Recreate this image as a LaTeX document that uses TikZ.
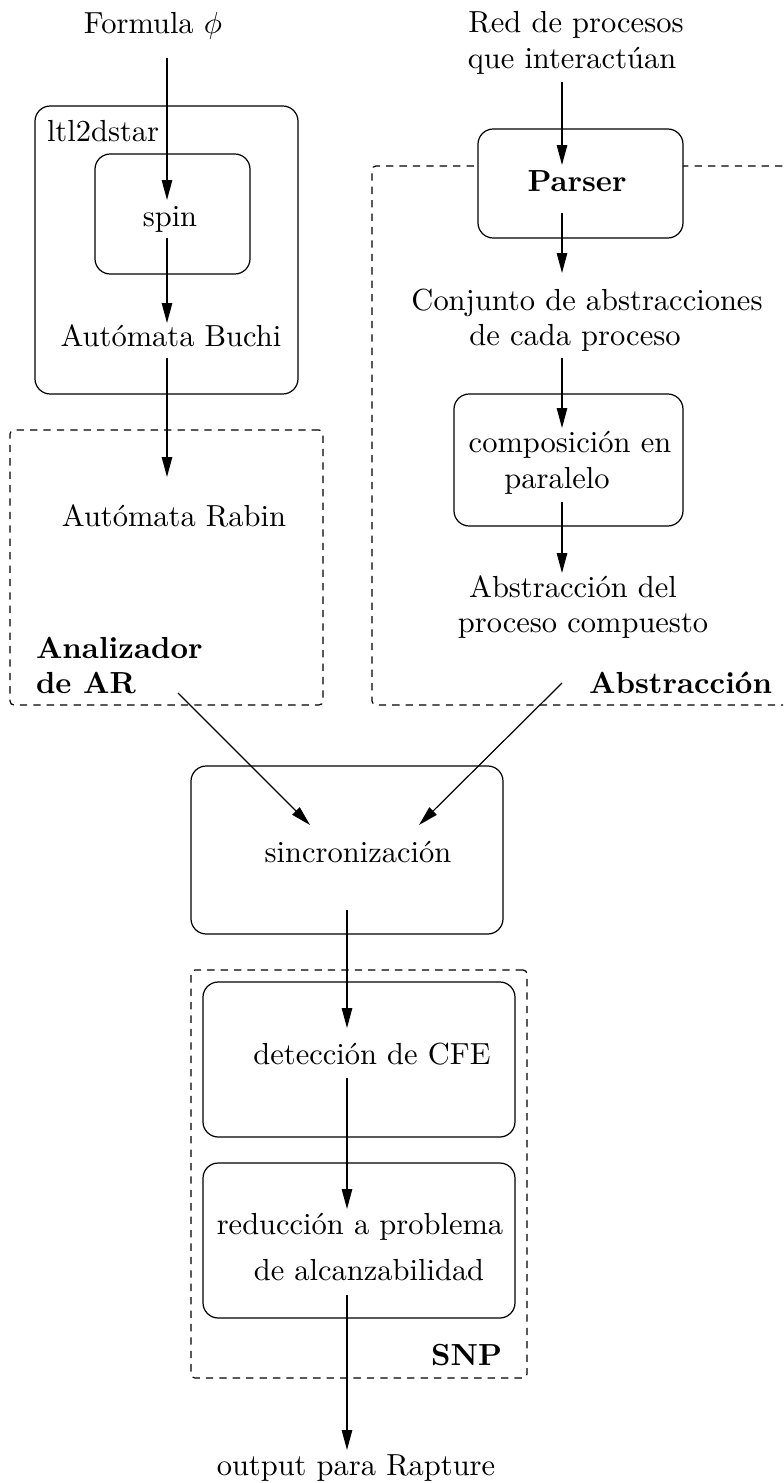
\documentclass[tikz,border=0pt]{standalone}
\usetikzlibrary{arrows.meta,fit}
\begin{document}
\begin{tikzpicture}[x=0.328pt,y=-0.328pt,
  solidbox/.style={draw=black,line width=0.4pt,rounded corners=5pt,inner sep=0pt,outer sep=0pt,fill=white},
  dashbox/.style={draw=black,line width=0.4pt,dash pattern=on 2.4pt off 2pt,rounded corners=1.3pt,inner sep=0pt,outer sep=0pt},
  lbl/.style={anchor=base,inner sep=0pt,outer sep=0pt},
  lblw/.style={anchor=base west,inner sep=0pt,outer sep=0pt},
  lble/.style={anchor=base east,inner sep=0pt,outer sep=0pt},
  conn/.style={-{Triangle[length=6.5pt,width=3.4pt]},line width=0.4pt}]
\useasboundingbox (0,0) rectangle (783,1483);
\clip (0,0) rectangle (783,1483);

% ---------- boxes ----------
\node[solidbox, fit={(35,106) (298,394)}] (ltlbox) {};
\node[solidbox, fit={(95,154) (250,274)}] (spinbox) {};
\node[dashbox, fit={(10,430) (323,705)}] (anabox) {};
\node[dashbox, fit={(372,166) (840,705)}] (absbox) {};
\node[solidbox, fit={(478,129) (683,238)}] (parserbox) {};
\node[solidbox, fit={(454,394) (683,526)}] (compbox) {};
\node[solidbox, fit={(191,766) (503,934)}] (sincbox) {};
\node[dashbox, fit={(191,970) (527,1378)}] (snpbox) {};
\node[solidbox, fit={(203,982) (515,1137)}] (detecbox) {};
\node[solidbox, fit={(203,1163) (515,1318)}] (reducbox) {};

% ---------- texts ----------
\node[lbl] (formula) at (153,34) {Formula $\phi$};
\node[lblw] (ltl) at (47,142) {ltl2dstar};
\node[lbl] (spin) at (170,227) {spin};
\node[lbl] (buchi) at (171,346) {Autómata Buchi};
\node[lbl] (rabin) at (174,526) {Autómata Rabin};
\node[lblw] (anal1) at (36,658) {\textbf{Analizador}};
\node[lblw] (anal2) at (36,693) {\textbf{de AR}};

\node[lbl] (red1) at (576,33) {Red de procesos};
\node[lbl] (red2) at (572,69) {que interactúan};
\node[lbl] (parser) at (577,192) {\textbf{Parser}};
\node[lbl] (conj1) at (587,310) {Conjunto de abstracciones};
\node[lbl] (conj2) at (575,345) {de cada proceso};
\node[lbl] (comp1) at (570,452) {composición en};
\node[lbl] (comp2) at (557,488) {paralelo};
\node[lbl] (abs1) at (573,597) {Abstracción del};
\node[lbl] (abs2) at (583,632) {proceso compuesto};
\node[lble] (abstr) at (772,693) {\textbf{Abstracción}};

\node[lbl] (sinc) at (358,862) {sincronización};
\node[lbl] (detec) at (372,1064) {detección de CFE};
\node[lbl] (reduc1) at (360,1234) {reducción a problema};
\node[lbl] (reduc2) at (369,1280) {de alcanzabilidad};
\node[lble] (snp) at (502,1365) {\textbf{SNP}};
\node[lbl] (output) at (356,1475) {output para Rapture};

% ---------- connector ends ----------
\coordinate (a1s) at (167,58);   \coordinate (a1e) at (167,200);
\coordinate (a2s) at (167,238);  \coordinate (a2e) at (167,323);
\coordinate (a3s) at (167,358);  \coordinate (a3e) at (167,477);
\coordinate (a4s) at (178,693);  \coordinate (a4e) at (310,825);
\coordinate (b1s) at (562,82);   \coordinate (b1e) at (562,165);
\coordinate (b2s) at (562,213);  \coordinate (b2e) at (562,273);
\coordinate (b3s) at (562,358);  \coordinate (b3e) at (562,428);
\coordinate (b4s) at (562,502);  \coordinate (b4e) at (562,573);
\coordinate (b5s) at (562,683);  \coordinate (b5e) at (419,825);
\coordinate (c1s) at (347,910);  \coordinate (c1e) at (347,1028);
\coordinate (c2s) at (347,1078); \coordinate (c2e) at (347,1209);
\coordinate (c3s) at (347,1295); \coordinate (c3e) at (347,1450);

% ---------- connectors ----------
\draw[conn] (a1s) -- (a1e);
\draw[conn] (a2s) -- (a2e);
\draw[conn] (a3s) -- (a3e);
\draw[conn] (a4s) -- (a4e);
\draw[conn] (b1s) -- (b1e);
\draw[conn] (b2s) -- (b2e);
\draw[conn] (b3s) -- (b3e);
\draw[conn] (b4s) -- (b4e);
\draw[conn] (b5s) -- (b5e);
\draw[conn] (c1s) -- (c1e);
\draw[conn] (c2s) -- (c2e);
\draw[conn] (c3s) -- (c3e);
\end{tikzpicture}
\end{document}
